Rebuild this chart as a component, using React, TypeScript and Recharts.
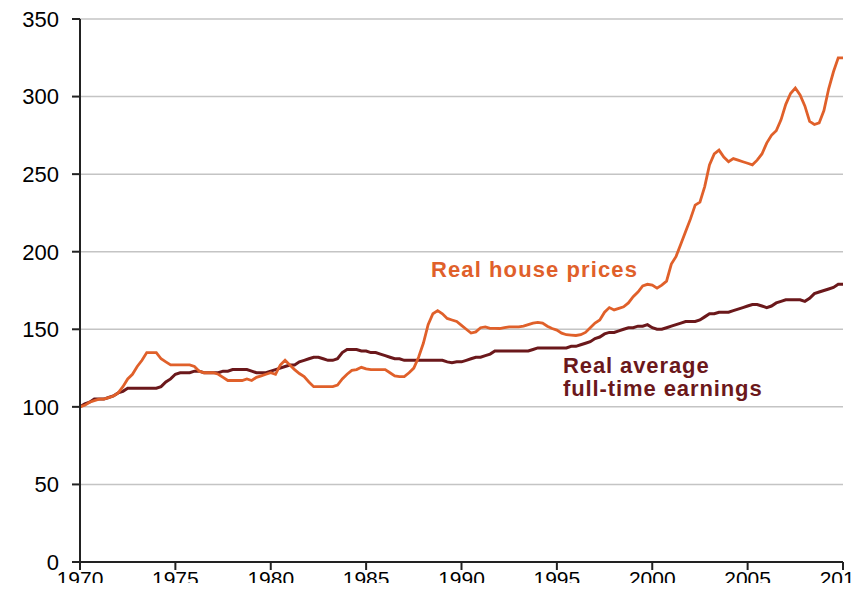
import { LineChart, Line, XAxis, YAxis, CartesianGrid } from "recharts";

// quarterly observations, index 1970 = 100
const startYear = 1970;

const housePrices = [
  100, 101, 103, 104, // 1970
  105, 105, 106, 107,
  109, 113, 118, 121,
  126, 130, 135, 135,
  135, 131, 129, 127,
  127, 127, 127, 127, // 1975
  126, 123, 122, 122,
  122, 121, 119, 117,
  117, 117, 117, 118,
  117, 119, 120, 121,
  122, 121, 127, 130, // 1980
  127, 124, 121.5, 119.5,
  116, 113, 113, 113,
  113, 113, 114, 118,
  121, 123.5, 124, 125.5,
  124.5, 124, 124, 124, // 1985
  124, 122, 120, 119.5,
  119.5, 122, 125, 132,
  141, 153, 160, 162,
  160, 157, 156, 155,
  152.5, 150, 147.6, 148.3, // 1990
  151, 151.5, 150.6, 150.6,
  150.5, 151, 151.5, 151.5,
  151.5, 152, 153, 154,
  154.5, 154, 152, 150.5,
  149.5, 147.5, 146.5, 146.3, // 1995
  146, 146.5, 148, 151,
  154, 156, 161, 164,
  162.5, 163.5, 164.5, 167,
  171, 174, 178, 179,
  178.5, 176.5, 178.5, 181, // 2000
  192, 197, 205, 213,
  221, 230, 232, 242,
  256, 263, 265.5, 261,
  258, 260, 259, 258,
  257, 256, 259, 263, // 2005
  270, 275, 278, 285,
  295, 302, 305.5, 301,
  294, 284, 282, 283,
  291, 305, 316, 325,
  325, // 2010
];

const earnings = [
  100, 102, 103, 105, // 1970
  105, 105, 106, 107,
  109, 110, 112, 112,
  112, 112, 112, 112,
  112, 113, 116, 118,
  121, 122, 122, 122, // 1975
  123, 123, 122, 122,
  122, 122, 123, 123,
  124, 124, 124, 124,
  123, 122, 122, 122,
  123, 124, 125, 126, // 1980
  127, 127, 129, 130,
  131, 132, 132, 131,
  130, 130, 131, 135,
  137, 137, 137, 136,
  136, 135, 135, 134, // 1985
  133, 132, 131, 131,
  130, 130, 130, 130,
  130, 130, 130, 130,
  130, 129, 128.5, 129,
  129, 130, 131, 132, // 1990
  132, 133, 134, 136,
  136, 136, 136, 136,
  136, 136, 136, 137,
  138, 138, 138, 138,
  138, 138, 138, 139, // 1995
  139, 140, 141, 142,
  144, 145, 147, 148,
  148, 149, 150, 151,
  151, 152, 152, 153,
  151, 150, 150, 151, // 2000
  152, 153, 154, 155,
  155, 155, 156, 158,
  160, 160, 161, 161,
  161, 162, 163, 164,
  165, 166, 166, 165, // 2005
  164, 165, 167, 168,
  169, 169, 169, 169,
  168, 170, 173, 174,
  175, 176, 177, 179,
  179, // 2010
];

const yearTicks = [1970, 1975, 1980, 1985, 1990, 1995, 2000, 2005, 2010];
const valueTicks = [0, 50, 100, 150, 200, 250, 300, 350];

const data = housePrices.map((v, i) => ({
  t: startYear + i / 4,
  house: v,
  earnings: earnings[i],
}));

const FONT = '"Liberation Sans", Arial, sans-serif';
const ORANGE = "#E0602A";
const MAROON = "#6B181B";

export default function App() {
  return (
    <div style={{ position: "relative", width: 861, height: 591, margin: -8, background: "#fff", fontFamily: FONT, overflow: "hidden" }}>
      <LineChart width={861} height={591} data={data} margin={{ top: 19, right: 18, bottom: 0, left: 0 }}>
        <CartesianGrid vertical={false} stroke="#c4c4c4" strokeWidth={1.5} />
        <XAxis
          dataKey="t"
          type="number"
          domain={[1970, 2010]}
          ticks={yearTicks}
          height={29}
          tickSize={8}
          tickMargin={1}
          axisLine={{ stroke: "#222", strokeWidth: 2 }}
          tickLine={{ stroke: "#222", strokeWidth: 2 }}
          tick={{ fill: "#000", fontSize: 21, fontFamily: FONT }}
          interval={0}
        />
        <YAxis
          domain={[0, 350]}
          ticks={valueTicks}
          width={80}
          tickSize={8}
          tickMargin={13}
          axisLine={{ stroke: "#222", strokeWidth: 2 }}
          tickLine={{ stroke: "#222", strokeWidth: 2 }}
          tick={{ fill: "#000", fontSize: 22, fontFamily: FONT }}
          interval={0}
        />
        <Line
          type="linear"
          dataKey="earnings"
          stroke={MAROON}
          strokeWidth={3}
          dot={false}
          isAnimationActive={false}
        />
        <Line
          type="linear"
          dataKey="house"
          stroke={ORANGE}
          strokeWidth={2.8}
          dot={false}
          isAnimationActive={false}
        />
      </LineChart>
      <div style={{ position: "absolute", left: 431, top: 257, color: ORANGE, fontWeight: "bold", fontSize: 22, letterSpacing: 1.1, whiteSpace: "nowrap" }}>
        Real house prices
      </div>
      <div style={{ position: "absolute", left: 563, top: 354, color: MAROON, fontWeight: "bold", fontSize: 22, letterSpacing: 0.9, lineHeight: "23px", whiteSpace: "nowrap" }}>
        Real average
        <br />
        full-time earnings
      </div>
    </div>
  );
}
